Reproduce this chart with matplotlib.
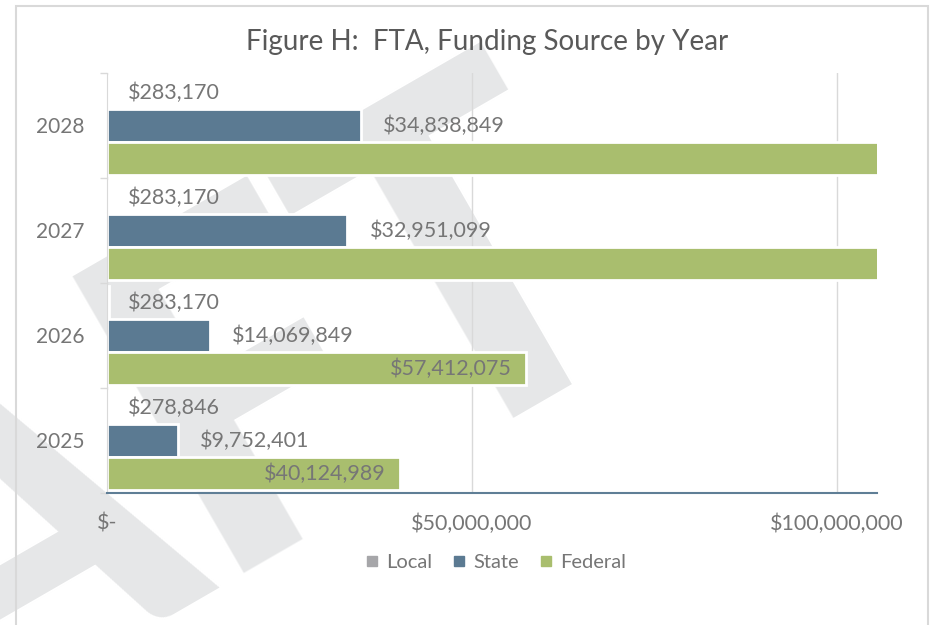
import numpy as np
import matplotlib.pyplot as plt
from matplotlib.patches import Rectangle
from matplotlib.lines import Line2D

# chart data
years = ['2025', '2026', '2027', '2028']
local = [278846, 283170, 283170, 283170]
state = [9752401, 14069849, 32951099, 34838849]
federal = [40124989, 57412075, 112000000, 115000000]
series = ['Local', 'State', 'Federal']
colors = ['#a6a6a9', '#5b7a92', '#a9be6e']
xticks = [0, 50000000, 100000000]
xticklabels = ['$-', '$50,000,000', '$100,000,000']

txt = '#767676'
plt.rcParams['font.family'] = ['Lato', 'DejaVu Sans']

W, H = 936, 625
fig = plt.figure(figsize=(W / 100, H / 100), dpi=100)

# faint watermark behind the chart
fig.text(652 / W, 1 - 321 / H, 'DRAFT', rotation=30, rotation_mode='anchor',
         ha='right', va='baseline', fontsize=380, fontweight='bold',
         family=['Carlito', 'Liberation Sans'], color='#e6e7e8', zorder=-5)

ax = fig.add_axes([107 / W, 1 - 493 / H, 770 / W, 420 / H])
ax.set_facecolor('none')

y = np.arange(len(years))
h = 0.314
xmax = 105.5e6
for vals, off, c in zip([local, state, federal], [h, 0, -h], colors):
    ax.barh(y + off, vals, height=h, color=c, edgecolor='white', linewidth=2, zorder=2)

fs = 15.5
for i in range(len(years)):
    ax.annotate(f'${local[i]:,}', (local[i], y[i] + h), xytext=(19, 0),
                textcoords='offset pixels', va='center', ha='left', fontsize=fs, color=txt)
    ax.annotate(f'${state[i]:,}', (state[i], y[i]), xytext=(22, 0),
                textcoords='offset pixels', va='center', ha='left', fontsize=fs, color=txt)
    if federal[i] < xmax:
        ax.annotate(f'${federal[i]:,}', (federal[i], y[i] - h), xytext=(-14, 0),
                    textcoords='offset pixels', va='center', ha='right', fontsize=fs, color=txt)

ax.set_xlim(0, xmax)
ax.set_ylim(-0.5, len(years) - 0.5)
ax.set_xticks(xticks)
ax.set_xticklabels(xticklabels)
ax.set_yticks(y)
ax.set_yticklabels(years)
ax.set_yticks(np.arange(len(years) + 1) - 0.5, minor=True)
ax.tick_params(axis='x', length=0, pad=15, labelsize=fs, labelcolor=txt)
ax.tick_params(axis='y', which='major', length=0, pad=16, labelsize=15, labelcolor=txt)
ax.tick_params(axis='y', which='minor', length=5, width=1, color='#d9d9d9')

ax.xaxis.grid(True, color='#d9d9d9', linewidth=1, zorder=1)
ax.set_axisbelow(True)
for s in ['top', 'right']:
    ax.spines[s].set_visible(False)
ax.spines['bottom'].set_color('#5f7e96')
ax.spines['bottom'].set_linewidth(1.5)
ax.spines['bottom'].set_zorder(3)
ax.spines['left'].set_color('#d9d9d9')

fig.text(487 / W, 1 - 42 / H, 'Figure H:  FTA, Funding Source by Year',
         ha='center', va='center', fontsize=20, color='#595959')

handles = [Line2D([], [], marker='s', ls='', color=c, markersize=7) for c in colors]
fig.legend(handles, series, loc='center', bbox_to_anchor=(494 / W, 1 - 562 / H),
           ncol=3, frameon=False, fontsize=14.5, labelcolor=txt,
           handletextpad=0.2, columnspacing=0.85, handlelength=1)

fig.patches.append(Rectangle((16 / W, -0.05), (928 - 16) / W, 1.05 - 6 / H, fill=False,
                             edgecolor='#d9d9d9', linewidth=1.5, transform=fig.transFigure))

fig.savefig('out.png', dpi=100)
